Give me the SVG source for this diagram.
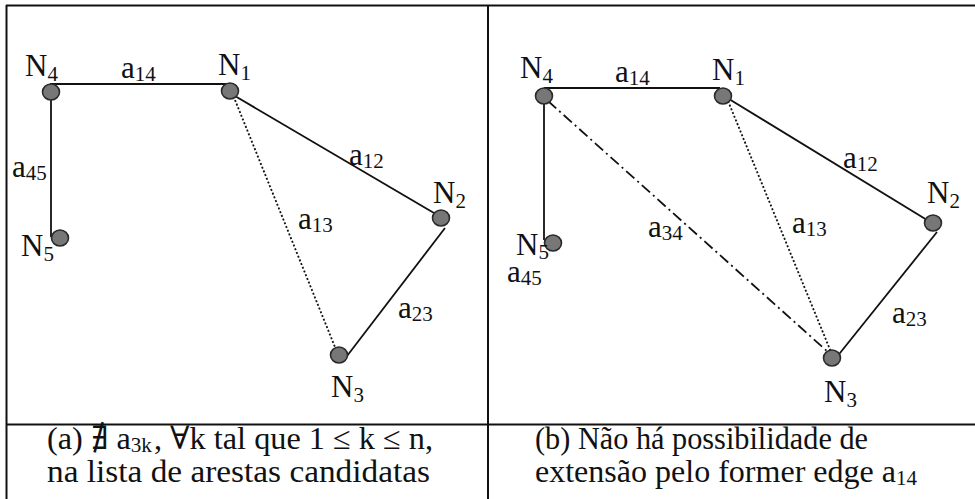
<svg xmlns="http://www.w3.org/2000/svg" width="975" height="499" viewBox="0 0 975 499">
<defs>
<style>
.frame{stroke:#111;stroke-width:2;fill:none}
.edge{stroke:#111;stroke-width:1.8;fill:none}
.dot{stroke:#111;stroke-width:1.8;stroke-dasharray:2,2;fill:none}
.dashdot{stroke:#111;stroke-width:1.8;stroke-dasharray:11,4,2,4;fill:none}
.node{fill:#777;stroke:#2a2a2a;stroke-width:1.6}
.lbl{font-family:"Liberation Serif","Times New Roman",serif;font-size:31px;fill:#111}
.sub{font-size:21px}
.cap{font-family:"Liberation Serif","Times New Roman","DejaVu Serif",serif;font-size:32px;fill:#111}
</style>
</defs>
<rect width="975" height="499" fill="#fff"/>
<g id="frame">
<line class="frame" x1="6" y1="5.5" x2="975" y2="5.5"/>
<line class="frame" x1="6.5" y1="5" x2="6.5" y2="499"/>
<line class="frame" x1="488" y1="5" x2="488" y2="499"/>
<line class="frame" x1="6" y1="424.5" x2="975" y2="424.5"/>
</g>
<g id="connectors">
<line class="edge" x1="50" y1="84" x2="226" y2="84"/>
<line class="edge" x1="51" y1="92" x2="51" y2="237"/>
<line class="edge" x1="235" y1="96" x2="434" y2="213"/>
<line class="dot" x1="235" y1="100" x2="337" y2="352"/>
<line class="edge" x1="445" y1="228" x2="347" y2="356"/>
<line class="edge" x1="544" y1="88" x2="720" y2="88"/>
<line class="edge" x1="544" y1="96" x2="544" y2="240"/>
<line class="dashdot" x1="548" y1="101" x2="828" y2="352"/>
<line class="dot" x1="728" y1="101" x2="831" y2="352"/>
<line class="edge" x1="729" y1="99" x2="927" y2="220"/>
<line class="edge" x1="937" y1="232" x2="836" y2="358"/>
</g>
<g id="a-N4"><ellipse class="node" cx="51" cy="92" rx="8.5" ry="8"/><text class="lbl" x="25" y="76">N<tspan class="sub" dy="5">4</tspan></text></g>
<g id="a-N1"><ellipse class="node" cx="230" cy="91" rx="8.5" ry="8"/><text class="lbl" x="218" y="75">N<tspan class="sub" dy="5">1</tspan></text></g>
<g id="a-N2"><ellipse class="node" cx="441" cy="218" rx="8.5" ry="8"/><text class="lbl" x="433" y="203">N<tspan class="sub" dy="5">2</tspan></text></g>
<g id="a-N5"><ellipse class="node" cx="60" cy="238" rx="8.5" ry="8"/><text class="lbl" x="21" y="256">N<tspan class="sub" dy="5">5</tspan></text></g>
<g id="a-N3"><ellipse class="node" cx="339" cy="355" rx="8.5" ry="8"/><text class="lbl" x="331" y="397">N<tspan class="sub" dy="5">3</tspan></text></g>
<g id="a-labels">
<text class="lbl" x="121" y="78">a<tspan class="sub" dy="3">14</tspan></text>
<text class="lbl" x="349" y="165">a<tspan class="sub" dy="3">12</tspan></text>
<text class="lbl" x="12" y="177">a<tspan class="sub" dy="3">45</tspan></text>
<text class="lbl" x="298" y="229">a<tspan class="sub" dy="3">13</tspan></text>
<text class="lbl" x="398" y="318">a<tspan class="sub" dy="3">23</tspan></text>
</g>
<g id="b-N4"><ellipse class="node" cx="544" cy="96" rx="8.5" ry="8"/><text class="lbl" x="520" y="78">N<tspan class="sub" dy="5">4</tspan></text></g>
<g id="b-N1"><ellipse class="node" cx="723" cy="96" rx="8.5" ry="8"/><text class="lbl" x="712" y="80">N<tspan class="sub" dy="5">1</tspan></text></g>
<g id="b-N2"><ellipse class="node" cx="933" cy="223" rx="8.5" ry="8"/><text class="lbl" x="927" y="203">N<tspan class="sub" dy="5">2</tspan></text></g>
<g id="b-N5"><ellipse class="node" cx="553" cy="243" rx="8.5" ry="8"/><text class="lbl" x="516" y="255">N<tspan class="sub" dy="4">5</tspan></text></g>
<g id="b-N3"><ellipse class="node" cx="832" cy="358" rx="8.5" ry="8"/><text class="lbl" x="824" y="402">N<tspan class="sub" dy="5">3</tspan></text></g>
<g id="b-labels">
<text class="lbl" x="507" y="282">a<tspan class="sub" dy="3">45</tspan></text>
<text class="lbl" x="615" y="82">a<tspan class="sub" dy="3">14</tspan></text>
<text class="lbl" x="843" y="168">a<tspan class="sub" dy="3">12</tspan></text>
<text class="lbl" x="648" y="237">a<tspan class="sub" dy="3">34</tspan></text>
<text class="lbl" x="792" y="233">a<tspan class="sub" dy="3">13</tspan></text>
<text class="lbl" x="892" y="323">a<tspan class="sub" dy="3">23</tspan></text>
</g>
<g id="captions">
<text class="cap" x="47" y="449" textLength="386" lengthAdjust="spacingAndGlyphs">(a) ∄ a<tspan class="sub" dy="3">3k</tspan><tspan dx="2" dy="-3">, ∀k tal que 1 ≤ k ≤ n,</tspan></text>
<text class="cap" x="47" y="482" textLength="383" lengthAdjust="spacingAndGlyphs">na lista de arestas candidatas</text>
<text class="cap" x="535" y="449" textLength="333" lengthAdjust="spacingAndGlyphs">(b) Não há possibilidade de</text>
<text class="cap" x="535" y="482" textLength="382" lengthAdjust="spacingAndGlyphs">extensão pelo former edge a<tspan class="sub" dy="3">14</tspan></text>
</g>
</svg>
